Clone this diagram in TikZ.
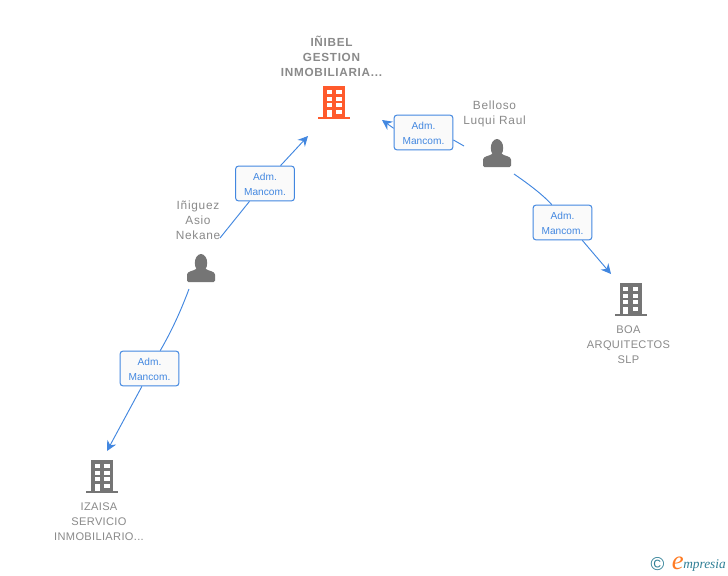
\documentclass[tikz,border=0pt]{standalone}
\usepackage{fontspec}
\usetikzlibrary{arrows.meta}
\setmainfont{Liberation Sans}
\newfontfamily\spacedfont[LetterSpace=6]{Liberation Sans}
\newfontfamily\entityfont[LetterSpace=3]{Liberation Sans}
\newfontfamily\logofont{Liberation Serif}
\definecolor{linkblue}{HTML}{4287E0}
\definecolor{labelgray}{HTML}{8A8A8A}
\definecolor{icongray}{HTML}{757575}
\definecolor{iconorange}{HTML}{FF5A2C}
\definecolor{logoteal}{HTML}{2F7F96}
\tikzset{
  entity/.style = {text = labelgray, align = center, inner sep = 0pt, font = \entityfont\fontsize{8.3}{11.25}\selectfont},
  mainentity/.style = {entity, font = \spacedfont\bfseries\fontsize{8.8}{11.25}\selectfont},
  personname/.style = {entity, font = \spacedfont\fontsize{8.9}{11.25}\selectfont},
  rolebox/.style = {draw = linkblue, fill = white!98!black, rounded corners = 2pt, line width = 0.75pt, minimum width = 44pt, minimum height = 26pt, inner sep = 0pt, align = center, text = linkblue, font = \fontsize{7.6}{11.25}\selectfont},
  link/.style = {draw = linkblue, line width = 0.7pt},
  arrowlink/.style = {link, -{Stealth[length = 7.5pt, width = 7.5pt, inset = 2.5pt]}},
  building/.pic = {
    \fill (-11,-17) rectangle (11,16);
    \fill (-16,14) rectangle (16,16);
    \foreach \y in {-13,-6.5,0,6.7} {
      \fill [white] (-7.5,\y) rectangle (-2.5,\y+4.3);
      \fill [white] (2,\y) rectangle (7.5,\y+4.3);
    }
    \fill [white] (-7.5,6.7) rectangle (-2.5,14);
  },
  person/.pic = {
    \fill (0,-5) ellipse (6.2 and 9);
    \fill [rounded corners = 1pt] (-14,14) -- (-14,8) .. controls (-14,3) and (-7,3) .. (-4,0) -- (4,0) .. controls (7,3) and (14,3) .. (14,8) -- (14,14) -- cycle;
  }
}
\begin{document}
\begin{tikzpicture}[x = 0.75pt, y = -0.75pt]
\useasboundingbox [fill = white] (0,0) rectangle (728,575);

\node [mainentity] (inibel) at (331.5,56.5) {IÑIBEL\\GESTION\\INMOBILIARIA...};
\pic [iconorange] at (334,103) {building};
\coordinate (inibelleft) at (382,120);
\coordinate (inibelbottom) at (308,136);

\node [personname] (belloso) at (494.5,113.7) {Belloso\\Luqui Raul};
\pic [icongray] at (497,153) {person};
\coordinate (bellosoleft) at (464,146);
\coordinate (bellosoright) at (514,174);

\node [personname] (iniguez) at (198,220) {Iñiguez\\Asio\\Nekane};
\pic [icongray] at (201,268) {person};
\coordinate (iniguezright) at (220,238);
\coordinate (iniguezbottom) at (189,289);

\node [entity] (boa) at (628.5,344.5) {BOA\\ARQUITECTOS\\SLP};
\pic [icongray] at (630.5,300) {building};
\coordinate (boatop) at (611,274);

\node [entity] (izaisa) at (99,521.5) {IZAISA\\SERVICIO\\INMOBILIARIO...};
\pic [icongray] at (102,477) {building};
\coordinate (izaisatop) at (107,451);

\node [rolebox] (roleiniguez) at (265,183.5) {\rule{0pt}{7pt}Adm.\\Mancom.};
\node [rolebox] (rolebelloso) at (423.5,132.5) {\rule{0pt}{7pt}Adm.\\Mancom.};
\node [rolebox] (roleboa) at (562.5,222.5) {\rule{0pt}{7pt}Adm.\\Mancom.};
\node [rolebox] (roleizaisa) at (149.5,368.5) {\rule{0pt}{7pt}Adm.\\Mancom.};

\draw [link] (iniguezright) -- (roleiniguez.229);
\draw [arrowlink] (roleiniguez.49) -- (inibelbottom);
\draw [link] (bellosoleft) -- (rolebelloso.-14);
\draw [arrowlink] (rolebelloso.172) -- (inibelleft);
\draw [link] (bellosoright) .. controls (530,185) and (543,195) .. (roleboa.121);
\draw [arrowlink] (roleboa.-42) -- (boatop);
\draw [link] (iniguezbottom) .. controls (180,313) and (171,332) .. (roleizaisa.59);
\draw [arrowlink] (roleizaisa.-113) -- (izaisatop);

\node [text = logoteal, inner sep = 0pt, font = \fontsize{14}{14}\selectfont] (logomark) at (657.5,564) {©};
\node [anchor = base west, text = logoteal, inner sep = 0pt, font = \logofont\itshape\fontsize{10}{10}\selectfont] (logoname) at (683,568) {mpresia};
\node [anchor = base east, text = iconorange!80!yellow, inner sep = 0pt, font = \logofont\itshape\fontsize{20}{20}\selectfont] (logoe) at (684,569) {e};
\end{tikzpicture}
\end{document}
